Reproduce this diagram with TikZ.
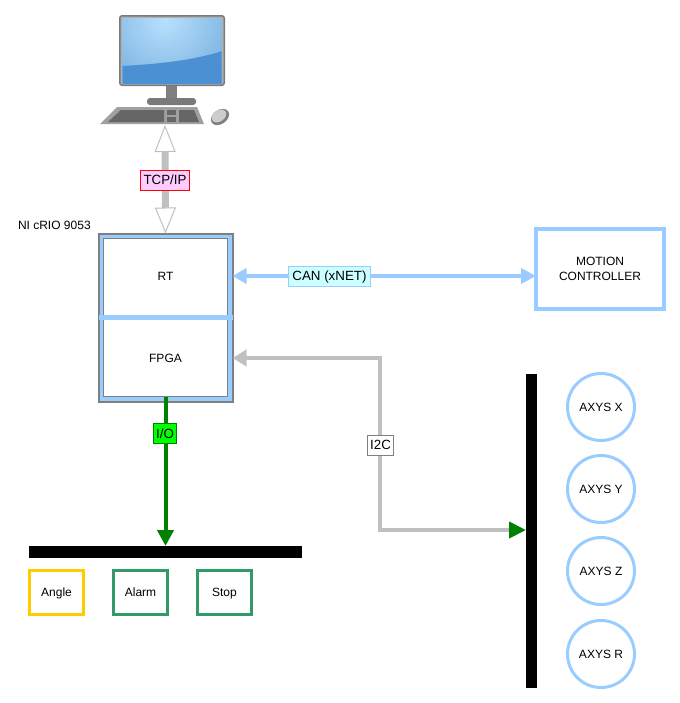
\documentclass[tikz,border=0pt]{standalone}
\usepackage{fontspec}
\setmainfont[Kerning=Off]{Liberation Sans}
\usetikzlibrary{arrows.meta,calc}
\definecolor{linkblue}{HTML}{99CCFF}
\definecolor{linkgray}{HTML}{C0C0C0}
\definecolor{framegray}{HTML}{808080}
\definecolor{seagreen}{HTML}{339966}
\definecolor{amber}{HTML}{FFCC00}
\definecolor{iogreen}{HTML}{008000}
\definecolor{pinkfill}{HTML}{FFCCFF}
\definecolor{cyanfill}{HTML}{CCFFFF}
\definecolor{limefill}{HTML}{00FF00}
\definecolor{bezel}{HTML}{7A7A7A}
\definecolor{keydark}{HTML}{666666}
\definecolor{keybody}{HTML}{A0A0A0}
\definecolor{skytop}{HTML}{B8E0FC}
\definecolor{skylow}{HTML}{6AA6DA}
\definecolor{deepblue}{HTML}{4A90D2}
\def\u{0.75pt}
\tikzset{
  x=0.75pt, y=-0.75pt,
  every node/.style={font=\fontsize{9pt}{11.2pt}\selectfont, inner sep=0pt, outer sep=0pt},
  oneline/.style={text height=6.4pt, text depth=0pt},
  plain/.style={oneline, minimum width=#1*\u, align=center},
  linklabel/.style={draw, line width=\u, font=\fontsize{10pt}{12pt}\selectfont,
    text height=7.1pt, text depth=0pt, minimum height=20*\u},
  signalbox/.style={oneline, draw=#1, line width=3*\u, minimum width=54*\u, minimum height=44*\u},
  axis/.style={oneline, circle, draw=linkblue, line width=3*\u, minimum size=67*\u},
  blackbar/.style={fill=black},
  tcplink/.style={line width=7*\u, linkgray,
    {Triangle[length=27*\u,width=21*\u,fill=white,color=linkgray,line width=\u]}-{Triangle[length=26*\u,width=21*\u,fill=white,color=linkgray,line width=\u]}},
  canlink/.style={line width=4*\u, linkblue,
    {Triangle[length=14*\u,width=15*\u]}-{Triangle[length=15*\u,width=15*\u]}},
  i2clink/.style={line width=4*\u, linkgray, line join=miter,
    {Triangle[length=14*\u,width=16*\u]}-{Triangle[length=17*\u,width=16*\u,color=iogreen]}},
  iolink/.style={line width=4*\u, iogreen, -{Triangle[length=16*\u,width=16*\u]}},
}
\begin{document}
\begin{tikzpicture}
\useasboundingbox (0,0) rectangle (680,703);

% desktop computer
\fill[bezel, rounded corners=3*\u] (119,15) rectangle (225,86);
\fill[bezel!60, rounded corners=2*\u] (120.5,16.5) rectangle (223.5,84.5);
\begin{scope}
  \clip (122.5,18.5) rectangle (221.5,83);
  \shade[inner color=skytop, outer color=skylow] (165,20) circle (92);
  \fill[deepblue] (122,66) .. controls (160,64) and (195,60) .. (222,51) -- (222,84) -- (122,84) -- cycle;
\end{scope}
\fill[framegray] (166,86) rectangle (177,100);
\fill[bezel, rounded corners=3*\u] (147,98) rectangle (196,105);
\fill[keybody] (117,107) -- (197,107) -- (204,124) -- (100,124) -- cycle;
\fill[keydark] (121,110) -- (164,110) -- (164,122) -- (108,122) -- cycle;
\fill[keydark] (179,110) -- (194,110) -- (199,122) -- (179,122) -- cycle;
\fill[keydark] (167,110) rectangle (176,115);
\fill[keydark] (167,117) rectangle (176,122);
\fill[framegray, rotate around={35:(220,117)}] (220,117) ellipse (10 and 7);
\fill[linkgray!80, rotate around={35:(219,116)}] (219,116) ellipse (8 and 5.5);
\node[minimum width=104*\u, minimum height=2*\u, anchor=south] (pc) at (165,125) {};

% controller chassis with its two sections
\node[draw=framegray, fill=linkblue, line width=2*\u, minimum width=134*\u, minimum height=168*\u] (rio) at (165.5,317.5) {};
\node[draw=framegray, fill=white, line width=1.5*\u, minimum width=124*\u, minimum height=158*\u] (rioinner) at (165.5,317.5) {};
\node[plain=122, minimum height=76*\u] (rt) at (165.5,276) {RT};
\node[plain=122, minimum height=78*\u] (fpga) at (165.5,358) {FPGA};
\draw[line width=4.5*\u, linkblue] (rio.west) -- (rio.east);
\node[anchor=west] (riolabel) at (18,225.5) {NI cRIO 9053};

% external devices
\node[draw=linkblue, line width=4*\u, minimum width=128*\u, minimum height=80*\u, align=center] (motion) at (600,269) {MOTION\\CONTROLLER};

\node[blackbar, minimum width=273*\u, minimum height=12*\u] (iobus) at (165.5,552) {};
\node[signalbox=amber] (angle) at (56.5,592.5) {Angle};
\node[signalbox=seagreen] (alarm) at (140.5,592.5) {Alarm};
\node[signalbox=seagreen] (stop) at (224.5,592.5) {Stop};

\node[blackbar, minimum width=11*\u, minimum height=314*\u] (axisbus) at (531.5,531) {};
\node[axis] (axisx) at (601,407) {AXYS X};
\node[axis] (axisy) at (601,489) {AXYS Y};
\node[axis] (axisz) at (601,571) {AXYS Z};
\node[axis] (axisr) at (601,654) {AXYS R};

% connectors
\coordinate (i2cbend) at (380,358);
\coordinate (i2cend) at (526,530);
\draw[tcplink] (pc.south) -- (rio.north);
\draw[canlink] (rt -| rio.east) -- (rt -| motion.west);
\draw[i2clink] (fpga -| rio.east) -- (i2cbend) |- (i2cend);
\draw[iolink] (rioinner.south) -- (iobus.north);

% connector labels
\node[linklabel, draw=red, fill=pinkfill, minimum width=49*\u] (tcplabel) at (165,180) {TCP/IP};
\node[linklabel, draw=linkblue, fill=cyanfill, minimum width=82*\u] (canlabel) at (329.5,276) {CAN (xNET)};
\node[linklabel, draw=framegray, fill=white, minimum width=26*\u] (i2clabel) at (380.5,445) {I2C};
\node[linklabel, draw=iogreen, fill=limefill, minimum width=23*\u] (iolabel) at (165,433.5) {I/O};
\end{tikzpicture}
\end{document}
